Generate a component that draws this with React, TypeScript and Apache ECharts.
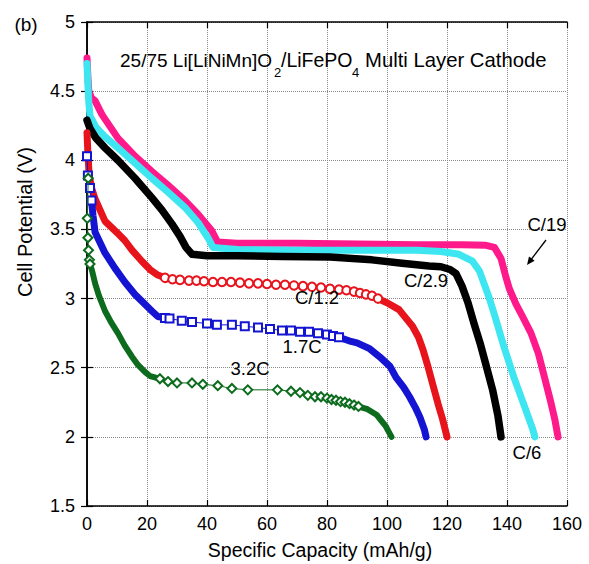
import React, { useEffect, useRef } from "react";
import * as echarts from "echarts";

// ---- axis ranges ----
const X_MIN = 0, X_MAX = 160, X_STEP = 20;
const Y_MIN = 1.5, Y_MAX = 5, Y_STEP = 0.5;

// ---- C/19 (magenta) ----
const c19 = [[0,4.74],[0.3,4.6],[0.6,4.5],[1.5,4.45],[2.7,4.43],[5,4.33],[10.3,4.16],[16,4.03],[21.6,3.92],[27,3.82],[32.6,3.71],[37,3.61],[41.6,3.49],[43.5,3.41],[50,3.40],[70,3.40],[90,3.395],[110,3.39],[125,3.39],[133,3.385],[135.8,3.37],[138,3.29],[139.7,3.15],[140.8,3.07],[143,2.96],[145.2,2.87],[148,2.75],[150.5,2.60],[152.5,2.43],[154.5,2.26],[156,2.12],[157,2.0]];
// ---- C/6 (cyan) ----
const c6 = [[0,4.70],[0.3,4.55],[0.6,4.42],[1,4.32],[3,4.24],[6,4.17],[10.3,4.09],[16,3.98],[21.6,3.87],[27,3.77],[32.6,3.66],[37,3.55],[40.3,3.44],[42,3.37],[50,3.355],[70,3.35],[90,3.35],[110,3.35],[118,3.34],[124,3.32],[128.5,3.27],[130.8,3.20],[134,3.01],[136,2.87],[139,2.65],[142.3,2.43],[145.5,2.24],[148.5,2.06],[149.3,2.0]];
// ---- C/2.9 (black) ----
const c29 = [[0,4.29],[1,4.23],[3,4.16],[6,4.09],[10.3,4.0],[16,3.87],[21.6,3.73],[25,3.64],[28.3,3.54],[31,3.45],[33,3.37],[35,3.32],[40,3.31],[50,3.31],[65,3.305],[81,3.30],[95,3.28],[105,3.255],[114,3.235],[118,3.23],[121,3.21],[123,3.18],[125,3.09],[127,2.97],[129,2.82],[131,2.68],[133,2.52],[135.2,2.34],[137,2.15],[138,2.0]];
// ---- C/1.2 (red) ----
const c12Dense1 = [[0,4.2],[0.3,4.05],[0.7,3.9],[1.5,3.8],[2.7,3.72],[6,3.56],[10.3,3.47],[12.6,3.42],[15,3.35],[18.3,3.27],[21,3.21],[23.6,3.17],[26,3.15]];
const c12Sparse = [[26,3.15],[28.5,3.14],[31,3.135],[34,3.13],[36.5,3.13],[39,3.125],[42,3.12],[45,3.12],[48,3.12],[51,3.115],[54,3.11],[57,3.11],[60,3.105],[63,3.10],[66,3.10],[69,3.095],[72,3.09],[75,3.085],[78,3.08],[81,3.07],[84,3.065],[86.5,3.06],[89,3.05],[91,3.04],[93,3.03],[95,3.02],[97,3.0]];
const c12Dense2 = [[97,3.0],[100,2.97],[104,2.92],[108.5,2.80],[110.5,2.72],[112,2.63],[113.5,2.52],[115.5,2.36],[117,2.24],[118.5,2.13],[120,2.0]];
// ---- 1.7C (blue) ----
const b17Head = [[0,4.03],[0.3,3.89],[1,3.80],[1.5,3.71]];
const b17Dense1 = [[1.5,3.71],[2,3.6],[2.7,3.48],[6,3.33],[9.3,3.22],[12.6,3.12],[16,3.03],[18.3,2.98],[21.6,2.91],[23.6,2.87],[26,2.86]];
const b17Sparse = [[26,2.86],[27.5,2.855],[31.6,2.84],[35,2.83],[40,2.82],[43.3,2.81],[48.3,2.81],[52.6,2.80],[57,2.79],[61,2.78],[65,2.77],[68,2.77],[71,2.76],[74,2.76],[77,2.75],[80,2.74],[82,2.73],[84,2.72]];
const b17Dense2 = [[84,2.72],[88,2.69],[90,2.68],[94,2.64],[97.5,2.58],[101,2.51],[103,2.43],[105.5,2.36],[107.5,2.29],[109.5,2.21],[111,2.14],[112.5,2.05],[113,2.0]];
// ---- 3.2C (green) ----
const g32Head = [[0.4,3.87],[0.1,3.58],[0.3,3.44],[0.5,3.35],[0.8,3.28],[1,3.25]];
const g32Dense1 = [[1,3.25],[1.7,3.2],[2.7,3.11],[4,3.02],[6,2.91],[8,2.83],[10.3,2.75],[12.6,2.66],[15,2.58],[17,2.52],[19.3,2.47],[21,2.44],[22.6,2.43],[24.3,2.42]];
const g32Sparse = [[24.3,2.42],[27,2.40],[30,2.39],[35,2.39],[38.6,2.38],[43.6,2.37],[48.3,2.35],[53.6,2.34],[63.5,2.34],[68,2.33],[71,2.32],[73.6,2.30],[76,2.29],[78,2.29],[80,2.28],[81.5,2.27],[83,2.265],[84.5,2.255],[86,2.25],[87.5,2.24],[89,2.23],[90.5,2.22]];
const g32Dense2 = [[90.5,2.22],[92,2.21],[93.5,2.20],[95,2.18],[96.5,2.16],[98,2.12],[99.5,2.08],[100.5,2.04],[101.5,2.0]];

const COLORS = {
  c19: "#ff1a8c",
  c6: "#3ee6f2",
  c29: "#000000",
  c12: "#e8141c",
  b17: "#1414d2",
  g32: "#0d6b1e",
};

const FONT = "'Liberation Sans', Arial, Helvetica, sans-serif";

function thick(data: number[][], color: string, width: number, z: number) {
  return {
    type: "line",
    data,
    symbol: "none",
    lineStyle: { color, width, cap: "round", join: "round" },
    z,
    silent: true,
  };
}
function sparse(data: number[][], color: string, symbol: string, size: number, z: number) {
  return {
    type: "line",
    data,
    symbol,
    symbolSize: size,
    showAllSymbol: true,
    lineStyle: { color, width: 1 },
    itemStyle: { color, borderWidth: 1.4 },
    z,
    silent: true,
  };
}

function txt(text: string, x: number, y: number, size: number, extra: any = {}) {
  return {
    type: "text", x, y, z: 100,
    style: { text, fontSize: size, fontFamily: FONT, fill: "#000", align: "center", verticalAlign: "middle", ...extra },
  };
}

export default function App() {
  const ref = useRef<HTMLDivElement>(null);
  useEffect(() => {
    if (!ref.current) return;
    const chart = echarts.init(ref.current, null, { renderer: "svg" });
    const baseAxis = {
      type: "value",
      axisLine: { show: true, lineStyle: { color: "#000", width: 1.5 } },
      axisTick: { show: true, inside: true, length: 6, lineStyle: { color: "#000", width: 1.2 } },
    };
    const lab = { color: "#000", fontSize: 18, fontFamily: FONT };
    const arrowEnd = [527, 265];
    chart.setOption({
      animation: false,
      backgroundColor: "#fff",
      grid: { left: 87, right: 22, top: 22, bottom: 58 },
      xAxis: [
        {
          ...baseAxis,
          min: X_MIN, max: X_MAX, interval: X_STEP,
          position: "bottom",
          axisLabel: { ...lab, margin: 9 },
          splitLine: { show: true, lineStyle: { color: "#8a8a8a", type: "dotted", width: 1 } },
        },
        {
          ...baseAxis,
          min: X_MIN, max: X_MAX, interval: X_STEP,
          position: "top",
          axisLabel: { show: false },
          splitLine: { show: false },
        },
      ],
      yAxis: [
        {
          ...baseAxis,
          min: Y_MIN, max: Y_MAX, interval: Y_STEP,
          position: "left",
          axisLabel: { ...lab, margin: 12 },
          splitLine: { show: true, lineStyle: { color: "#8a8a8a", type: "dotted", width: 1 } },
        },
        {
          ...baseAxis,
          min: Y_MIN, max: Y_MAX, interval: Y_STEP,
          position: "right",
          axisLabel: { show: false },
          splitLine: { show: false },
        },
      ],
      series: [
        thick(c19, COLORS.c19, 7, 2),
        thick(c6, COLORS.c6, 7, 3),
        thick(c29, COLORS.c29, 7.5, 4),
        thick(c12Dense1, COLORS.c12, 7, 5),
        sparse(c12Sparse, COLORS.c12, "emptyCircle", 8.5, 5),
        thick(c12Dense2, COLORS.c12, 7, 5),
        sparse(b17Head, COLORS.b17, "emptyRect", 8, 6),
        thick(b17Dense1, COLORS.b17, 7, 6),
        sparse(b17Sparse, COLORS.b17, "emptyRect", 8, 6),
        thick(b17Dense2, COLORS.b17, 7, 6),
        sparse(g32Head, COLORS.g32, "emptyDiamond", 9, 7),
        thick(g32Dense1, COLORS.g32, 6, 7),
        sparse(g32Sparse, COLORS.g32, "emptyDiamond", 9, 7),
        thick(g32Dense2, COLORS.g32, 6, 7),
      ],
      graphic: [
        txt("(b)", 26, 24, 19),
        txt("25/75 Li[LiNiMn]O", 120, 60, 19, { align: "left" }),
        txt("2", 274, 72, 13, { align: "left" }),
        txt("/LiFePO", 281, 60, 19.5, { align: "left" }),
        txt("4", 352, 72, 13, { align: "left" }),
        txt("Multi Layer Cathode", 365, 60, 20.3, { align: "left" }),
        txt("Specific Capacity (mAh/g)", 320, 550, 19.5),
        { ...txt("Cell Potential (V)", 25, 222, 20), rotation: Math.PI / 2 },
        txt("C/19", 547, 224, 18.5),
        txt("C/2.9", 426, 280, 18.5),
        txt("C/1.2", 317, 297, 18.5),
        txt("1.7C", 302, 346, 18.5),
        txt("3.2C", 250, 368, 18.5),
        txt("C/6", 527, 452, 18.5),
        { type: "line", z: 100, shape: { x1: 546, y1: 240, x2: 530, y2: 261 }, style: { stroke: "#000", lineWidth: 1.3 } },
        { type: "polygon", z: 100, shape: { points: [arrowEnd, [534.6, 260.7], [529.0, 256.5]] }, style: { fill: "#000" } },
      ],
    });
    return () => chart.dispose();
  }, []);
  return <div ref={ref} style={{ position: "fixed", left: 0, top: 0, width: 589, height: 564 }} />;
}
